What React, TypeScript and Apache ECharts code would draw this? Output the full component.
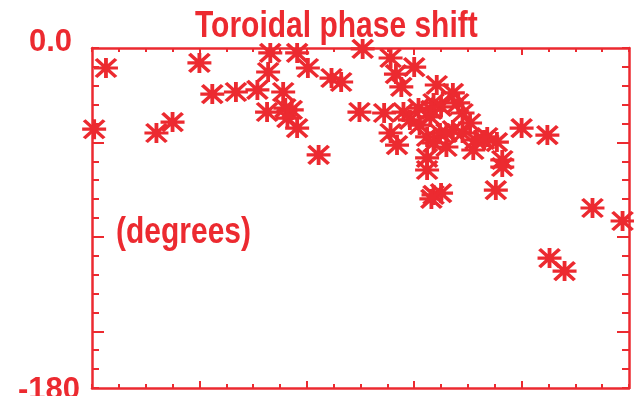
import React, { useEffect, useRef } from "react";
import * as echarts from "echarts";

const RED = "#EC2A30";
const FONT = "'Liberation Sans', Arial, Helvetica, sans-serif";

const titleText = "Toroidal phase shift";
const yUnitText = "(degrees)";
const yTickLabels = ["0.0", "-180"];
const yLabelValues = [0, -180];
const yMajorTicks = [-150, -100, -50];
const xMajorTicks = [1, 2, 3, 4];

// x position (arbitrary units 0..5), toroidal phase shift (degrees)
const xs = [
  0.02, 0.13, 0.6, 0.75, 1.0, 1.12, 1.34, 1.54, 1.66, 1.64,
  1.78, 1.63, 1.8, 1.86, 1.82, 1.91, 1.91, 2.01, 2.11, 2.23,
  2.32, 2.49, 2.52, 2.78, 2.83, 3.0, 2.88, 2.72, 2.9, 3.04,
  2.78, 2.84, 3.21, 3.36, 3.18, 3.16, 3.25, 3.15, 3.45, 3.52,
  3.36, 3.24, 3.12, 3.3, 3.12, 3.18, 3.3, 3.45, 3.55, 3.68,
  3.77, 3.65, 3.82, 3.82, 3.12, 3.18, 3.25, 3.16, 3.76, 4.0,
  4.24, 4.66, 4.94, 4.26, 4.4, 2.96, 3.05, 3.41, 3.57,
];
const ys = [
  -43, -10.6, -45, -39.2, -7.9, -24.4, -23.3, -22.2, -2.6, -12.7,
  -23.3, -33.9, -31.8, -32.8, -37.1, -42.4, -2.6, -10.6, -56.6, -15.9,
  -18.0, -33.9, -0.5, -5.3, -13.8, -10.1, -20.6, -34.4, -33.9, -31.8,
  -45, -51.4, -19.6, -23.8, -29.1, -32.8, -31.2, -36.5, -34.4, -39.7,
  -43.4, -45, -47.1, -52.4, -58.2, -50.3, -45, -45, -54, -47.1,
  -49.8, -48.7, -59.3, -63, -64.6, -77.8, -76.8, -79.9, -75.2, -42.4,
  -46.1, -84.7, -91.6, -111.2, -118.1, -38.1, -40.8, -29.1, -48.7,
];

const STAR = "path://M0 10H24M12 0V20M2 1L22 19M22 1L2 19";

export default function App() {
  const ref = useRef<HTMLDivElement>(null);
  useEffect(() => {
    if (!ref.current) return;
    const chart = echarts.init(ref.current, undefined, { renderer: "svg" });
    const line = { show: true, onZero: false, lineStyle: { color: RED, width: 2.5 } };
    const hiddenLine = { show: false, onZero: false };
    const noLabel = { show: false };
    const noSplit = { show: false };
    const xBase = { type: "value", min: 0, max: 5, splitLine: noSplit, axisLabel: noLabel };
    const yBase = { type: "value", min: -180, max: 0, splitLine: noSplit };
    const minorTick = { inside: true, length: 4, lineStyle: { color: RED, width: 2 } };
    const majorTickX = { inside: true, length: 7, customValues: xMajorTicks, lineStyle: { color: RED, width: 2 } };
    const minorTickY = { inside: true, length: 7, lineStyle: { color: RED, width: 2 } };
    const majorTickY = { inside: true, length: 12, customValues: yMajorTicks, lineStyle: { color: RED, width: 2 } };
    chart.setOption({
      animation: false,
      grid: { left: 92, top: 48, right: 5, bottom: 8, containLabel: false, outerBoundsMode: "none" },
      xAxis: [
        { ...xBase, position: "bottom", interval: 0.25, axisLine: line, axisTick: minorTick },
        { ...xBase, position: "bottom", axisLine: hiddenLine, axisTick: majorTickX },
        { ...xBase, position: "top", interval: 0.25, axisLine: line, axisTick: minorTick },
        { ...xBase, position: "top", axisLine: hiddenLine, axisTick: majorTickX },
      ],
      yAxis: [
        { ...yBase, position: "left", interval: 10, axisLine: line, axisTick: minorTickY,
          axisLabel: {
            show: true,
            customValues: yLabelValues,
            margin: 12,
            formatter: (v: number) => (v === 0 ? "{top|" + yTickLabels[0] + "}" : "{bot|" + yTickLabels[1] + "}"),
            rich: {
              top: { color: RED, fontFamily: FONT, fontWeight: "bold", fontSize: 31, padding: [0, 8, 16, 0] },
              bot: { color: RED, fontFamily: FONT, fontWeight: "bold", fontSize: 31 },
            },
          } },
        { ...yBase, position: "left", axisLine: hiddenLine, axisLabel: noLabel, axisTick: majorTickY },
        { ...yBase, position: "right", interval: 10, axisLine: line, axisLabel: noLabel, axisTick: minorTickY },
        { ...yBase, position: "right", axisLine: hiddenLine, axisLabel: noLabel, axisTick: majorTickY },
      ],
      graphic: [
        {
          type: "text",
          x: 195,
          y: 24,
          scaleY: 1.22,
          style: { text: titleText, fill: RED, font: "bold 30px " + FONT, verticalAlign: "middle", align: "left" },
        },
        {
          type: "text",
          x: 116,
          y: 230,
          scaleY: 1.22,
          style: { text: yUnitText, fill: RED, font: "bold 30px " + FONT, verticalAlign: "middle", align: "left" },
        },
      ],
      series: [
        {
          type: "scatter",
          xAxisIndex: 0,
          yAxisIndex: 0,
          symbol: STAR,
          symbolSize: [24, 20],
          clip: false,
          itemStyle: { color: "rgba(0,0,0,0)", borderColor: RED, borderWidth: 3.5, opacity: 1 },
          data: xs.map((x, i) => [x, ys[i]]),
        },
      ],
    });
    return () => chart.dispose();
  }, []);
  return <div ref={ref} style={{ position: "fixed", left: 0, top: 0, width: 634, height: 396 }} />;
}
